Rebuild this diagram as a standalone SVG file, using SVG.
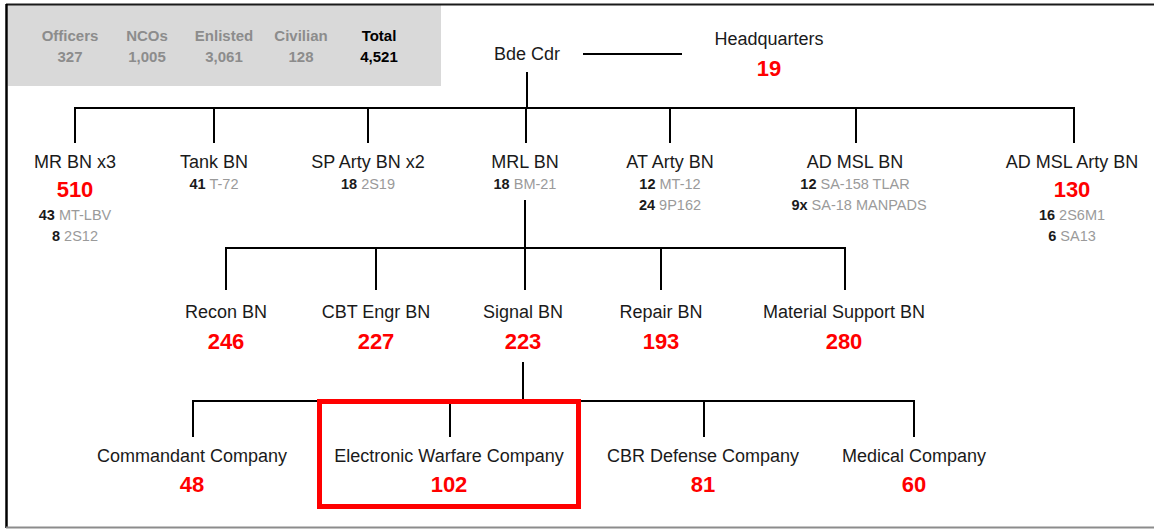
<svg xmlns="http://www.w3.org/2000/svg" width="1154" height="529" viewBox="0 0 1154 529">
<style>
text{font-family:"Liberation Sans",Arial,sans-serif;text-anchor:middle}
.lbl{font-size:18px;fill:#1a1a1a}
.num{font-size:22px;font-weight:bold;fill:#ff0000}
.sub{font-size:14.5px;fill:#9a9a9a}
.sub tspan.b{font-weight:bold;fill:#1a1a1a}
.st{font-size:15px;font-weight:bold;fill:#8c8c8c}
.stt{font-size:15px;font-weight:bold;fill:#000}
.ln{stroke:#000;stroke-width:2;fill:none}
</style>
<rect x="0" y="0" width="1154" height="529" fill="#fff"/>
<rect x="8" y="5" width="433" height="81" fill="#d9d9d9"/>
<line x1="6" y1="4.5" x2="1154" y2="4.5" stroke="#1a1a1a" stroke-width="2"/>
<line x1="6.5" y1="4" x2="6.5" y2="528" stroke="#000" stroke-width="2.5"/>
<line x1="6" y1="527.5" x2="1154" y2="527.5" stroke="#8c8c8c" stroke-width="2"/>

<g id="stats">
<text class="st" x="70" y="41">Officers</text><text class="st" x="70" y="62">327</text>
<text class="st" x="147" y="41">NCOs</text><text class="st" x="147" y="62">1,005</text>
<text class="st" x="224" y="41">Enlisted</text><text class="st" x="224" y="62">3,061</text>
<text class="st" x="301" y="41">Civilian</text><text class="st" x="301" y="62">128</text>
<text class="stt" x="379" y="41">Total</text><text class="stt" x="379" y="62">4,521</text>
</g>

<g id="connectors">
<line class="ln" x1="583" y1="54" x2="682" y2="54"/>
<line class="ln" x1="527" y1="72" x2="527" y2="108"/>
<line class="ln" x1="74" y1="108" x2="1075" y2="108"/>
<line class="ln" x1="75" y1="107" x2="75" y2="143"/>
<line class="ln" x1="214" y1="107" x2="214" y2="143"/>
<line class="ln" x1="368" y1="107" x2="368" y2="143"/>
<line class="ln" x1="526" y1="107" x2="526" y2="143"/>
<line class="ln" x1="670" y1="107" x2="670" y2="143"/>
<line class="ln" x1="856" y1="107" x2="856" y2="143"/>
<line class="ln" x1="1074" y1="107" x2="1074" y2="143"/>
<line class="ln" x1="525" y1="200" x2="525" y2="248"/>
<line class="ln" x1="225" y1="248" x2="846" y2="248"/>
<line class="ln" x1="226" y1="247" x2="226" y2="290"/>
<line class="ln" x1="376" y1="247" x2="376" y2="290"/>
<line class="ln" x1="525" y1="247" x2="525" y2="290"/>
<line class="ln" x1="661" y1="247" x2="661" y2="290"/>
<line class="ln" x1="845" y1="247" x2="845" y2="290"/>
<line class="ln" x1="523" y1="362" x2="523" y2="401"/>
<line class="ln" x1="192" y1="401" x2="915" y2="401"/>
<line class="ln" x1="193" y1="400" x2="193" y2="437"/>
<line class="ln" x1="450" y1="403" x2="450" y2="437"/>
<line class="ln" x1="704" y1="400" x2="704" y2="437"/>
<line class="ln" x1="914" y1="400" x2="914" y2="437"/>
</g>

<g id="bde-cdr"><text class="lbl" x="527" y="60">Bde Cdr</text></g>
<g id="hq"><text class="lbl" x="769" y="45">Headquarters</text><text class="num" x="769" y="76">19</text></g>

<g id="mr-bn">
<text class="lbl" x="75" y="168">MR BN x3</text>
<text class="num" x="75" y="197">510</text>
<text class="sub" x="75" y="220"><tspan class="b">43</tspan> MT-LBV</text>
<text class="sub" x="75" y="241"><tspan class="b">8</tspan> 2S12</text>
</g>
<g id="tank-bn">
<text class="lbl" x="214" y="168">Tank BN</text>
<text class="sub" x="214" y="189"><tspan class="b">41</tspan> T-72</text>
</g>
<g id="sp-arty-bn">
<text class="lbl" x="368" y="168">SP Arty BN x2</text>
<text class="sub" x="368" y="189"><tspan class="b">18</tspan> 2S19</text>
</g>
<g id="mrl-bn">
<text class="lbl" x="525" y="168">MRL BN</text>
<text class="sub" x="525" y="189"><tspan class="b">18</tspan> BM-21</text>
</g>
<g id="at-arty-bn">
<text class="lbl" x="670" y="168">AT Arty BN</text>
<text class="sub" x="670" y="189"><tspan class="b">12</tspan> MT-12</text>
<text class="sub" x="670" y="210"><tspan class="b">24</tspan> 9P162</text>
</g>
<g id="ad-msl-bn">
<text class="lbl" x="855" y="168">AD MSL BN</text>
<text class="sub" x="855" y="189"><tspan class="b">12</tspan> SA-158 TLAR</text>
<text class="sub" x="859" y="210"><tspan class="b">9x</tspan> SA-18 MANPADS</text>
</g>
<g id="ad-msl-arty-bn">
<text class="lbl" x="1072" y="168">AD MSL Arty BN</text>
<text class="num" x="1072" y="197">130</text>
<text class="sub" x="1072" y="220"><tspan class="b">16</tspan> 2S6M1</text>
<text class="sub" x="1072" y="241"><tspan class="b">6</tspan> SA13</text>
</g>

<g id="recon-bn"><text class="lbl" x="226" y="318">Recon BN</text><text class="num" x="226" y="349">246</text></g>
<g id="cbt-engr-bn"><text class="lbl" x="376" y="318">CBT Engr BN</text><text class="num" x="376" y="349">227</text></g>
<g id="signal-bn"><text class="lbl" x="523" y="318">Signal BN</text><text class="num" x="523" y="349">223</text></g>
<g id="repair-bn"><text class="lbl" x="661" y="318">Repair BN</text><text class="num" x="661" y="349">193</text></g>
<g id="material-support-bn"><text class="lbl" x="844" y="318">Material Support BN</text><text class="num" x="844" y="349">280</text></g>

<g id="commandant-co"><text class="lbl" x="192" y="462">Commandant Company</text><text class="num" x="192" y="492">48</text></g>
<g id="ew-co">
<rect x="319.5" y="401.5" width="259" height="105" fill="none" stroke="#ff0000" stroke-width="5"/>
<text class="lbl" x="449" y="462">Electronic Warfare Company</text><text class="num" x="449" y="492">102</text>
</g>
<g id="cbr-co"><text class="lbl" x="703" y="462">CBR Defense Company</text><text class="num" x="703" y="492">81</text></g>
<g id="medical-co"><text class="lbl" x="914" y="462">Medical Company</text><text class="num" x="914" y="492">60</text></g>
</svg>
